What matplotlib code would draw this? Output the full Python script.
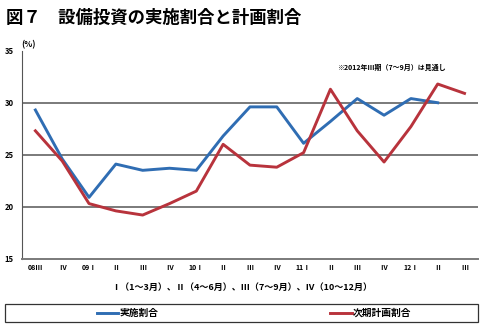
import numpy as np
import matplotlib.pyplot as plt
from matplotlib.patches import Rectangle
from matplotlib.lines import Line2D

plt.rcParams['font.family'] = ['Noto Sans CJK JP', 'DejaVu Sans']

quarters = ['08Ⅲ', 'Ⅳ', '09Ⅰ', 'Ⅱ', 'Ⅲ', 'Ⅳ', '10Ⅰ', 'Ⅱ', 'Ⅲ', 'Ⅳ',
            '11Ⅰ', 'Ⅱ', 'Ⅲ', 'Ⅳ', '12Ⅰ', 'Ⅱ', 'Ⅲ']
jisshi = [29.3, 24.6, 20.9, 24.1, 23.5, 23.7, 23.5, 26.8, 29.6, 29.6,
          26.1, 28.2, 30.4, 28.8, 30.4, 30.0]
keikaku = [27.3, 24.4, 20.3, 19.6, 19.2, 20.3, 21.5, 26.0, 24.0, 23.8,
           25.2, 31.3, 27.3, 24.3, 27.7, 31.8, 30.9]

blue = '#2f6db3'
red = '#b8333c'

fig = plt.figure(figsize=(4.83, 3.36), dpi=100)
ax = fig.add_axes([0.0455, 0.230, 0.944, 0.619])

x = np.arange(len(quarters))
ax.plot(x[:len(jisshi)], jisshi, color=blue, linewidth=2.1)
ax.plot(x, keikaku, color=red, linewidth=2.1)

ax.set_xlim(-0.5, len(quarters) - 0.5)
ax.set_ylim(15, 35)
ax.set_yticks([15, 20, 25, 30, 35])
ax.set_yticklabels(['15', '20', '25', '30', '35'], fontsize=5.5, fontweight='bold')
ax.set_xticks(x)
ax.set_xticklabels(quarters, fontsize=5, fontweight='bold')
ax.tick_params(axis='y', length=0, pad=6)
ax.tick_params(axis='x', length=0, pad=4)
for v in [20, 25, 30]:
    ax.axhline(v, color='#7a7a7a', linewidth=1.4, zorder=0)
for s in ['top', 'right']:
    ax.spines[s].set_visible(False)
ax.spines['left'].set_color('#555555')
ax.spines['bottom'].set_color('#7a7a7a')
ax.spines['bottom'].set_linewidth(1.4)

fig.text(0.012, 0.948, '図７　設備投資の実施割合と計画割合', fontsize=12.5,
         fontweight='bold', va='center')
fig.text(0.045, 0.868, '(%)', fontsize=6, fontweight='bold', va='center')
fig.text(0.81, 0.80, '※2012年Ⅲ期（7～9月）は見通し', fontsize=5,
         fontweight='bold', ha='center', va='center')
fig.text(0.50, 0.143, 'Ⅰ（1～3月）、Ⅱ（4～6月）、Ⅲ（7～9月）、Ⅳ（10～12月）',
         fontsize=6.5, fontweight='bold', ha='center', va='center')

# legend box along the bottom
fig.patches.append(Rectangle((0.010, 0.042), 0.980, 0.054, transform=fig.transFigure,
                             fill=False, edgecolor='#333333', linewidth=0.9))
fig.lines.append(Line2D([0.200, 0.245], [0.069, 0.069], transform=fig.transFigure,
                        color=blue, linewidth=2.1))
fig.text(0.248, 0.069, '実施割合', fontsize=7, fontweight='bold', va='center')
fig.lines.append(Line2D([0.683, 0.728], [0.069, 0.069], transform=fig.transFigure,
                        color=red, linewidth=2.1))
fig.text(0.731, 0.069, '次期計画割合', fontsize=7, fontweight='bold', va='center')

fig.savefig('out.png', dpi=100)
